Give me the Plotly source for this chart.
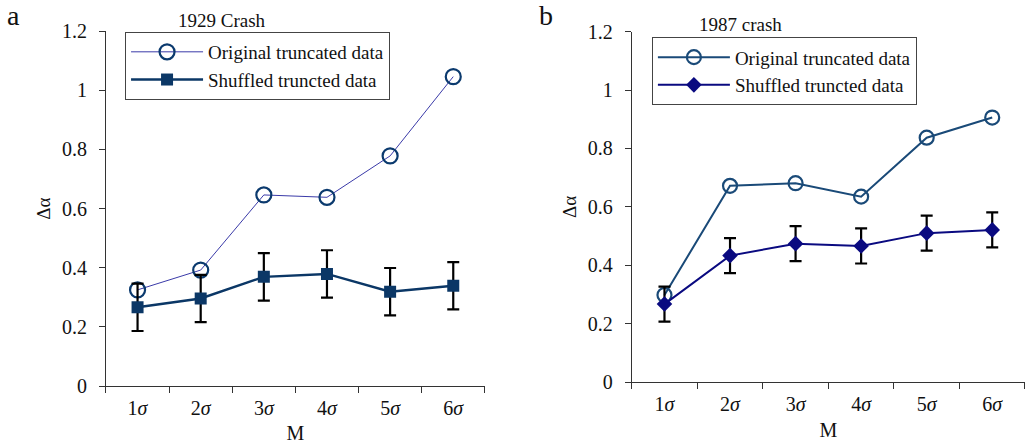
import plotly.graph_objects as go

categories = ["1<i>σ</i>", "2<i>σ</i>", "3<i>σ</i>", "4<i>σ</i>", "5<i>σ</i>", "6<i>σ</i>"]

orig_1929 = [0.325, 0.392, 0.646, 0.638, 0.778, 1.046]
shuf_1929 = [0.266, 0.296, 0.369, 0.379, 0.319, 0.339]
err_1929 = [0.08, 0.08, 0.08, 0.08, 0.08, 0.08]

orig_1987 = [0.298, 0.672, 0.681, 0.635, 0.837, 0.906]
shuf_1987 = [0.267, 0.433, 0.474, 0.466, 0.510, 0.521]
err_1987 = [0.06, 0.06, 0.06, 0.06, 0.06, 0.06]

y_ticks = [0, 0.2, 0.4, 0.6, 0.8, 1.0, 1.2]
y_ticklabels = ["0", "0.2", "0.4", "0.6", "0.8", "1", "1.2"]

FONT = "Liberation Serif, Times New Roman, serif"
TXT = "#111111"

fig = go.Figure()

# Panel a
fig.add_trace(go.Scatter(
    x=categories, y=orig_1929, name="Original truncated data",
    mode="lines+markers", xaxis="x", yaxis="y", legend="legend",
    line=dict(color="#3a3aa8", width=1),
    marker=dict(symbol="circle-open", size=15, color="#0b3a6e", line=dict(width=2.2, color="#0b3a6e")),
))
fig.add_trace(go.Scatter(
    x=categories, y=shuf_1929, name="Shuffled truncted data",
    mode="lines+markers", xaxis="x", yaxis="y", legend="legend",
    line=dict(color="#0b3766", width=2.5),
    marker=dict(symbol="square", size=12, color="#0b3766"),
    error_y=dict(type="data", array=err_1929, color="black", thickness=2.2, width=6),
))

# Panel b
fig.add_trace(go.Scatter(
    x=categories, y=orig_1987, name="Original truncated data",
    mode="lines+markers", xaxis="x2", yaxis="y2", legend="legend2",
    line=dict(color="#1a4a78", width=2),
    marker=dict(symbol="circle-open", size=14, color="#1a4a78", line=dict(width=2.2, color="#1a4a78")),
))
fig.add_trace(go.Scatter(
    x=categories, y=shuf_1987, name="Shuffled truncted data",
    mode="lines+markers", xaxis="x2", yaxis="y2", legend="legend2",
    line=dict(color="#0a0a80", width=2),
    marker=dict(symbol="diamond", size=12, color="#0a0a80"),
    error_y=dict(type="data", array=err_1987, color="black", thickness=2.2, width=6),
))

xcommon = dict(
    type="category", range=[-0.5, 5.5], tickson="boundaries", ticks="outside",
    ticklen=6, tickcolor="#333", showline=True, linecolor="#333", linewidth=1,
    showgrid=False, zeroline=False, automargin=False, ticklabelstandoff=4,
    tickfont=dict(family=FONT, size=20, color=TXT),
    title=dict(text="M", font=dict(family=FONT, size=20, color=TXT), standoff=8),
)
ycommon = dict(
    range=[0, 1.2], tickvals=y_ticks, ticktext=y_ticklabels, ticks="outside",
    ticklen=6, tickcolor="#333", showline=True, linecolor="#333", linewidth=1,
    showgrid=False, zeroline=False, automargin=False, ticklabelstandoff=8,
    tickfont=dict(family=FONT, size=20, color=TXT),
    title=dict(text="Δα", font=dict(family=FONT, size=19, color=TXT), standoff=6),
)

legcommon = dict(
    xanchor="left", yanchor="top", bgcolor="white", bordercolor="#444", borderwidth=1,
    font=dict(family=FONT, size=19, color=TXT), itemwidth=72, tracegroupgap=0,
    entrywidth=290, entrywidthmode="pixels",
)

fig.update_layout(
    width=1025, height=444,
    margin=dict(l=0, r=0, t=0, b=0),
    paper_bgcolor="white", plot_bgcolor="white",
    showlegend=True,
    xaxis=dict(domain=[0.1034, 0.473], anchor="y", **xcommon),
    yaxis=dict(domain=[0.1306, 0.930], anchor="x", **ycommon),
    xaxis2=dict(domain=[0.6163, 1.0], anchor="y2", **xcommon),
    yaxis2=dict(domain=[0.1396, 0.9286], anchor="x2", **ycommon),
    legend=dict(x=0.122, y=0.928, **legcommon),
    legend2=dict(x=0.636, y=0.916, **legcommon),
    annotations=[
        dict(text="a", x=0.005, y=1.005, xref="paper", yref="paper", xanchor="left", yanchor="top",
             showarrow=False, font=dict(family=FONT, size=28, color=TXT)),
        dict(text="b", x=0.524, y=1.005, xref="paper", yref="paper", xanchor="left", yanchor="top",
             showarrow=False, font=dict(family=FONT, size=28, color=TXT)),
        dict(text="1929 Crash", x=222 / 1025, y=1 - 21 / 444, xref="paper", yref="paper",
             xanchor="center", yanchor="middle",
             showarrow=False, font=dict(family=FONT, size=19, color=TXT)),
        dict(text="1987 crash", x=740 / 1025, y=1 - 25 / 444, xref="paper", yref="paper",
             xanchor="center", yanchor="middle",
             showarrow=False, font=dict(family=FONT, size=19, color=TXT)),
    ],
)

fig.write_html("out.html")
